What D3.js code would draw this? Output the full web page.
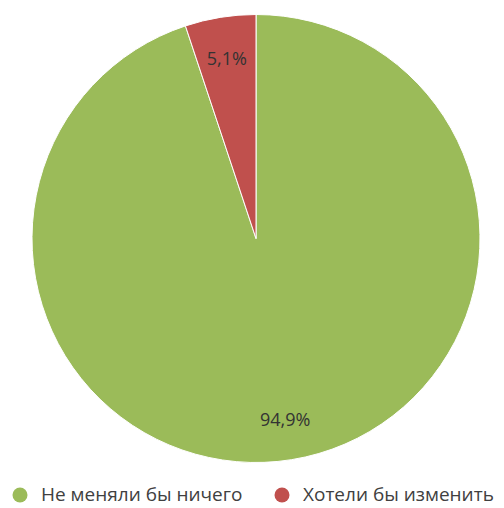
<!DOCTYPE html>
<html><head><meta charset="utf-8">
<script src="https://cdn.jsdelivr.net/npm/d3@7"></script>
<style>body{margin:0;background:#fff}svg{display:block}</style>
</head><body>
<script>
const categories = ["Не меняли бы ничего", "Хотели бы изменить"];
const values = [94.9, 5.1];
const labels = ["94,9%", "5,1%"];
const colors = ["#9BBB59", "#C0504D"];

const W = 504, H = 508, cx = 256, cy = 238.5, R = 224;
const svg = d3.select("body").append("svg").attr("width", W).attr("height", H);
const g = svg.append("g").attr("transform", `translate(${cx},${cy})`);
const pie = d3.pie().sort(null).value(d => d)(values);
const arc = d3.arc().innerRadius(0).outerRadius(R);
const larc = d3.arc().innerRadius(R * 0.815).outerRadius(R * 0.815);
g.selectAll("path").data(pie).join("path")
  .attr("d", arc).attr("fill", (d, i) => colors[i])
  .attr("stroke", "#fff").attr("stroke-width", 1);
g.selectAll("text").data(pie).join("text")
  .attr("transform", d => `translate(${larc.centroid(d)})`)
  .attr("text-anchor", "middle").attr("dominant-baseline", "central")
  .attr("font-family", "Open Sans, sans-serif").attr("font-size", 18)
  .attr("fill", "#333").text((d, i) => labels[i]);

const legX = [20, 282];
const leg = svg.append("g");
categories.forEach((c, i) => {
  leg.append("circle").attr("cx", legX[i]).attr("cy", 495).attr("r", 7.5).attr("fill", colors[i]);
  leg.append("text").attr("x", legX[i] + 21).attr("y", 494).attr("dominant-baseline", "central")
    .attr("font-family", "Open Sans, sans-serif").attr("font-size", 19).attr("fill", "#404040").text(c);
});
</script>
</body></html>
